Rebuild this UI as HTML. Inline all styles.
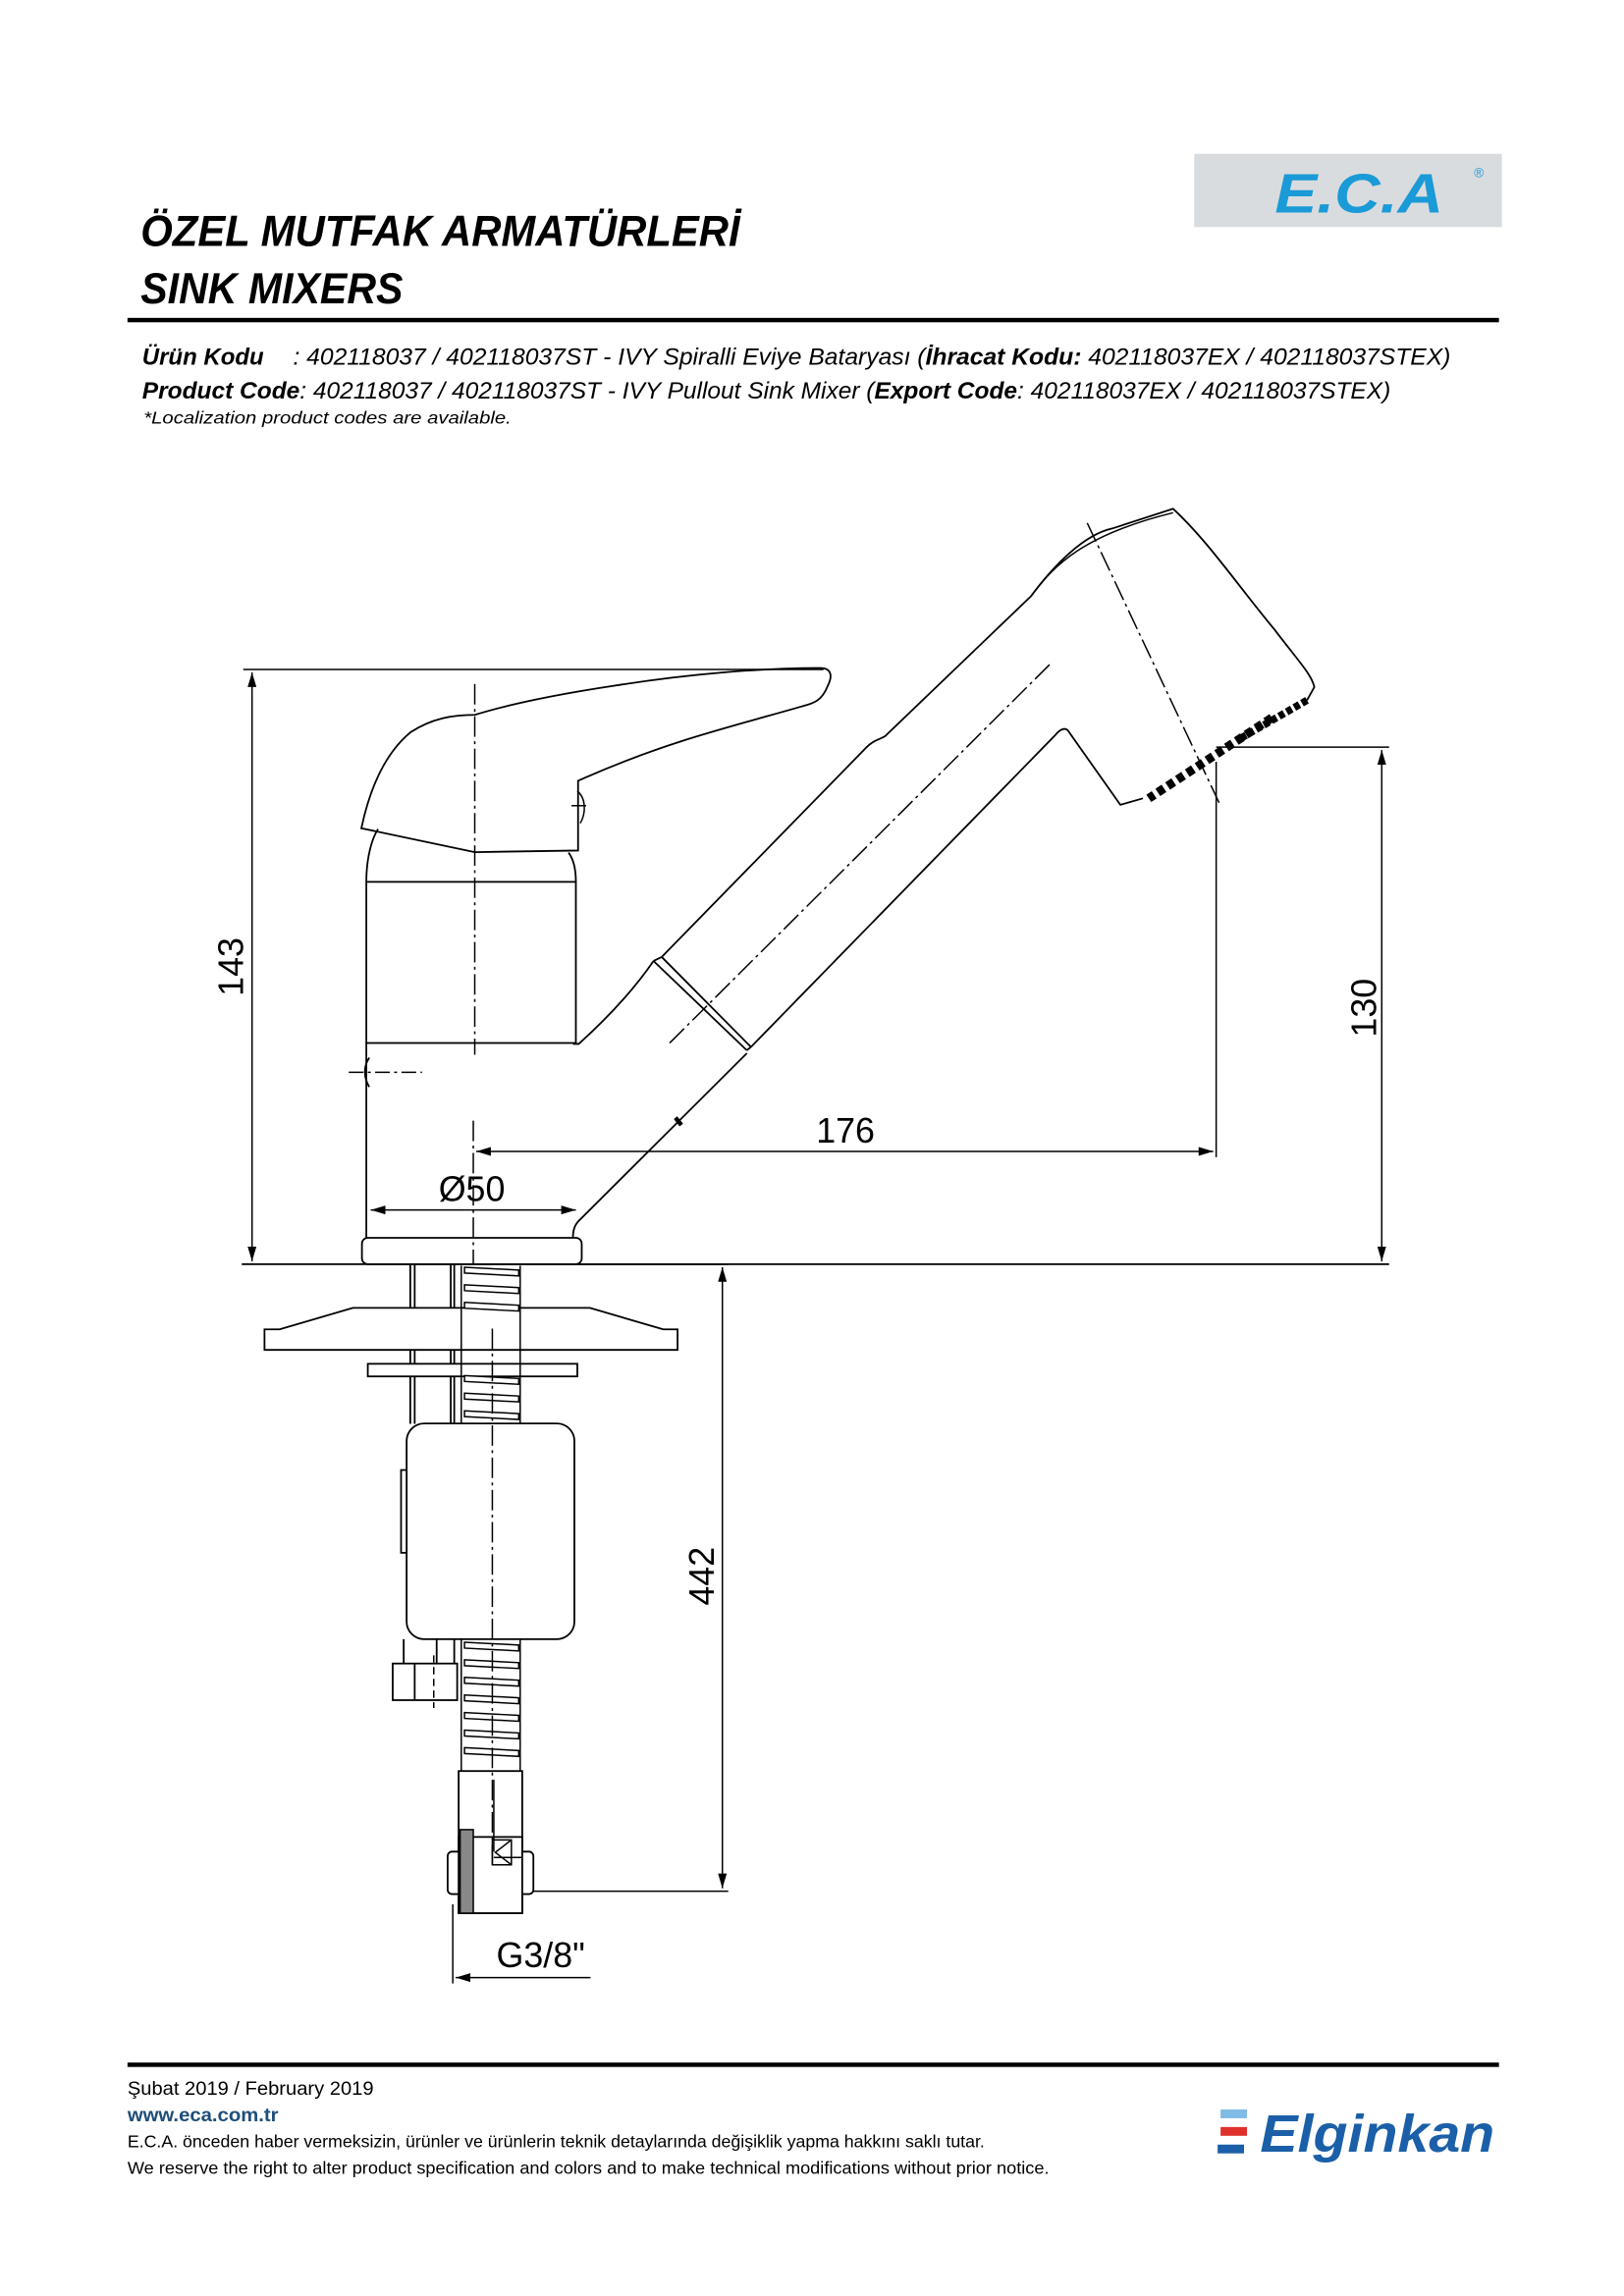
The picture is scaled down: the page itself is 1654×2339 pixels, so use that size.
<!DOCTYPE html>
<html><head><meta charset="utf-8"><style>
html,body{margin:0;padding:0;background:#fff}
svg{display:block}
text{font-family:"Liberation Sans",sans-serif}
</style></head><body>
<svg width="1654" height="2339" viewBox="0 0 1100 1555.6" xmlns="http://www.w3.org/2000/svg">
<defs>
<marker id="a" viewBox="0 0 10 6" refX="10" refY="3" markerWidth="10" markerHeight="6" orient="auto-start-reverse" markerUnits="userSpaceOnUse"><path d="M0,0 L10,3 L0,6 z" fill="#000"/></marker>
</defs>
<g transform="scale(0.9925)">
<!-- header -->
<rect x="815" y="105" width="210" height="50" fill="#d9dcde"/>
<text x="870" y="145" font-size="38" font-weight="bold" font-style="italic" fill="#1a9ad6" textLength="115" lengthAdjust="spacingAndGlyphs">E.C.A</text>
<text x="1006" y="121" font-size="9" fill="#1a9ad6">®</text>
<text x="96" y="168" font-size="30" font-weight="bold" font-style="italic" textLength="409" lengthAdjust="spacingAndGlyphs">ÖZEL MUTFAK ARMATÜRLERİ</text>
<text x="96" y="207" font-size="30" font-weight="bold" font-style="italic" textLength="179" lengthAdjust="spacingAndGlyphs">SINK MIXERS</text>
<rect x="87" y="217" width="936" height="3" fill="#000"/>
<text x="97" y="249" font-size="16" font-style="italic" font-weight="bold" textLength="83" lengthAdjust="spacingAndGlyphs">Ürün Kodu</text>
<text x="200" y="249" font-size="16" font-style="italic" textLength="790" lengthAdjust="spacingAndGlyphs">: 402118037 / 402118037ST - IVY Spiralli Eviye Bataryası (<tspan font-weight="bold">İhracat Kodu:</tspan> 402118037EX / 402118037STEX)</text>
<text x="97" y="272" font-size="16" font-style="italic" textLength="852" lengthAdjust="spacingAndGlyphs"><tspan font-weight="bold">Product Code</tspan>: 402118037 / 402118037ST - IVY Pullout Sink Mixer (<tspan font-weight="bold">Export Code</tspan>: 402118037EX / 402118037STEX)</text>
<text x="98" y="289" font-size="12" font-style="italic" textLength="251" lengthAdjust="spacingAndGlyphs">*Localization product codes are available.</text>

<g fill="none" stroke="#000" stroke-width="1.2">
<line x1="166" y1="457" x2="562" y2="457" stroke-width="1"/>
<line x1="172" y1="459" x2="172" y2="861" marker-start="url(#a)" marker-end="url(#a)" stroke-width="1"/>
<line x1="165" y1="863" x2="948" y2="863"/>
<line x1="830" y1="510" x2="948" y2="510" stroke-width="1"/>
<line x1="943" y1="512" x2="943" y2="861" marker-start="url(#a)" marker-end="url(#a)" stroke-width="1"/>
<line x1="830" y1="520" x2="830" y2="790" stroke-width="1"/>
<line x1="323" y1="765" x2="323" y2="863" stroke-width="1" stroke-dasharray="14,3,2,3"/>
<line x1="325" y1="786" x2="828" y2="786" marker-start="url(#a)" marker-end="url(#a)" stroke-width="1"/>
<line x1="253" y1="826" x2="393" y2="826" marker-start="url(#a)" marker-end="url(#a)" stroke-width="1"/>

<rect x="250" y="602" width="143" height="110"/>
<path d="M250,712 L250,845"/>
<rect x="247" y="845" width="150" height="18" rx="4"/>
<path d="M250,602 C250,585 254,572 258,566 M393,602 C393,592 391,586 388,582"/>
<path d="M246.6,565.4 C252,540 262,515 280,500 C295,490 310,488 324,488 C350,480 380,474 420,468 C470,460 520,456 559.6,456 C568,456 568,462 565,468 C561,478 556,480 548,482 C520,490 490,498 465,506 C440,514 415,524 399,531 L394.5,533 L394.5,580.6 L324,581.7 Z"/>
<path d="M394,540 C400,545 400,555 396,562" stroke-width="1"/>
<line x1="390" y1="550" x2="400" y2="550" stroke-width="1"/>
<line x1="324" y1="467" x2="324" y2="720" stroke-width="1" stroke-dasharray="14,3,2,3"/>
<path d="M391,712.6 L395,712.6 C420,690 435,672 446,656"/>
<path d="M446,656 L509.7,717 M451.6,653.3 L512.5,714.7 M446,656 L451.6,653.3 M509.7,717 L512.5,714.7"/>
<path d="M451.6,653.3 L590,511.5 C596,505 600,505 604,502.6 L703.6,407 C720,385 740,365 759,360.8 L800.6,347.3 C825,370 845,400 870,430 C885,450 895,460 897,469 L892,478"/>
<path d="M703.6,407 C720,385 740,365 800.6,350" stroke-width="1"/>
<path d="M512.5,714.7 L720,502 C724,497 727,497 728.6,498.4 L764.6,549.4 L780,545"/>
<path d="M509.7,719 L396,832.4 C392,836 391,840 391,845"/>
<path d="M892,478 L845,505" stroke-width="5" stroke-dasharray="4,2"/>
<path d="M868,490 L784,545" stroke-width="6" stroke-dasharray="5,3"/>
<line x1="457" y1="712" x2="717" y2="453" stroke-width="1" stroke-dasharray="14,3,2,3"/>
<line x1="742" y1="357" x2="832" y2="548" stroke-width="1" stroke-dasharray="14,3,2,3"/>
<path d="M461,763 L465,768" stroke-width="3"/>
<path d="M252,722 C248,728 248,735 252,742"/>
<line x1="238" y1="732" x2="288" y2="732" stroke-width="1" stroke-dasharray="10,3,2,3"/>

<line x1="394" y1="863" x2="497" y2="863"/>
<line x1="280" y1="863" x2="280" y2="972"/><line x1="283" y1="863" x2="283" y2="972"/>
<line x1="307.6" y1="863" x2="307.6" y2="972"/><line x1="310" y1="863" x2="310" y2="972"/>
<polygon points="180.5,907.5 190.8,907.5 240.8,892.8 402.6,892.8 452.6,907.5 462.4,907.5 462.4,921.5 180.5,921.5" fill="#fff"/>
<rect x="251" y="931" width="143" height="8.6" fill="#fff"/>
</g>
<g fill="#fff" stroke="#000" stroke-width="1">
<line x1="314.8" y1="864" x2="314.8" y2="1210"/>
<line x1="355" y1="864" x2="355" y2="1210"/>
<path d="M317,866h37v4h-37z M317,878h37v4h-37z M317,890h37v4h-37z M317,940h37v4h-37z M317,952h37v4h-37z M317,964h37v4h-37z M317,1122h37v4h-37z M317,1134h37v4h-37z M317,1146h37v4h-37z M317,1158h37v4h-37z M317,1170h37v4h-37z M317,1182h37v4h-37z M317,1194h37v4h-37z M317,1215h22v4h-22z M317,1227h22v4h-22z M317,1239h22v4h-22z" transform="skewY(3)" transform-origin="335 0"/>
</g>
<g fill="none" stroke="#000" stroke-width="1.2">
<rect x="277.5" y="971.7" width="114.5" height="147.3" rx="12" fill="#fff"/>
<rect x="273.7" y="1003.5" width="3.8" height="56.5" fill="#fff"/>
<path d="M275.5,1119 L275.5,1135.6 M298,1119 L298,1135.6 M310,1119 L310,1135.6"/>
<rect x="268" y="1135.6" width="44" height="25" fill="#fff"/>
<line x1="283" y1="1135.6" x2="283" y2="1160.6"/>
<line x1="296" y1="1130" x2="296" y2="1166" stroke-width="1" stroke-dasharray="5,3"/>
<rect x="313" y="1209" width="43.4" height="97" fill="#fff"/>
<rect x="305.5" y="1264" width="58.5" height="29" rx="3" fill="#fff"/>
<rect x="313" y="1254" width="43.4" height="52" fill="#fff"/>
<path d="M337,1215 L337,1264 M337,1268 L356,1268" stroke-width="1"/>
<rect x="314" y="1249" width="9" height="57" fill="#888" stroke="#000" stroke-width="1"/>
<path d="M336,1256 L349,1256 L349,1273 L336,1273 Z M349,1256 L338,1264.5 L349,1273" stroke-width="1"/>
<line x1="336" y1="907" x2="336" y2="1276" stroke-width="1" stroke-dasharray="14,3,2,3"/>
<line x1="364" y1="1291" x2="497" y2="1291" stroke-width="1"/>
<line x1="493" y1="865" x2="493" y2="1289" marker-start="url(#a)" marker-end="url(#a)" stroke-width="1"/>
<line x1="309" y1="1300" x2="309" y2="1354" stroke-width="1"/>
<line x1="311" y1="1350" x2="403" y2="1350" marker-start="url(#a)" stroke-width="1"/>
</g>
<g font-size="24" fill="#000">
<text x="166" y="660" text-anchor="middle" transform="rotate(-90 166 660)">143</text>
<text x="939" y="688" text-anchor="middle" transform="rotate(-90 939 688)">130</text>
<text x="577" y="780" text-anchor="middle">176</text>
<text x="322" y="820" text-anchor="middle">Ø50</text>
<text x="487" y="1076" text-anchor="middle" transform="rotate(-90 487 1076)">442</text>
<text x="369" y="1343" text-anchor="middle">G3/8"</text>
</g>

<rect x="87" y="1408" width="936" height="3" fill="#000"/>
<text x="87" y="1430" font-size="13" textLength="168" lengthAdjust="spacingAndGlyphs">Şubat 2019 / February 2019</text>
<text x="87" y="1448" font-size="13" font-weight="bold" fill="#1f4e79" textLength="103" lengthAdjust="spacingAndGlyphs">www.eca.com.tr</text>
<text x="87" y="1466" font-size="12" textLength="585" lengthAdjust="spacingAndGlyphs">E.C.A. önceden haber vermeksizin, ürünler ve ürünlerin teknik detaylarında değişiklik yapma hakkını saklı tutar.</text>
<text x="87" y="1484" font-size="12" textLength="629" lengthAdjust="spacingAndGlyphs">We reserve the right to alter product specification and colors and to make technical modifications without prior notice.</text>
<rect x="833" y="1440" width="18" height="6" fill="#7fbbe6"/>
<rect x="833" y="1452" width="18" height="6" fill="#e0302c"/>
<rect x="831" y="1464" width="18" height="6" fill="#1a5fa8"/>
<text x="860" y="1469" font-size="36" font-weight="bold" font-style="italic" fill="#1a5fa8" textLength="160" lengthAdjust="spacingAndGlyphs">Elginkan</text>
</g>
</svg>
</body></html>
